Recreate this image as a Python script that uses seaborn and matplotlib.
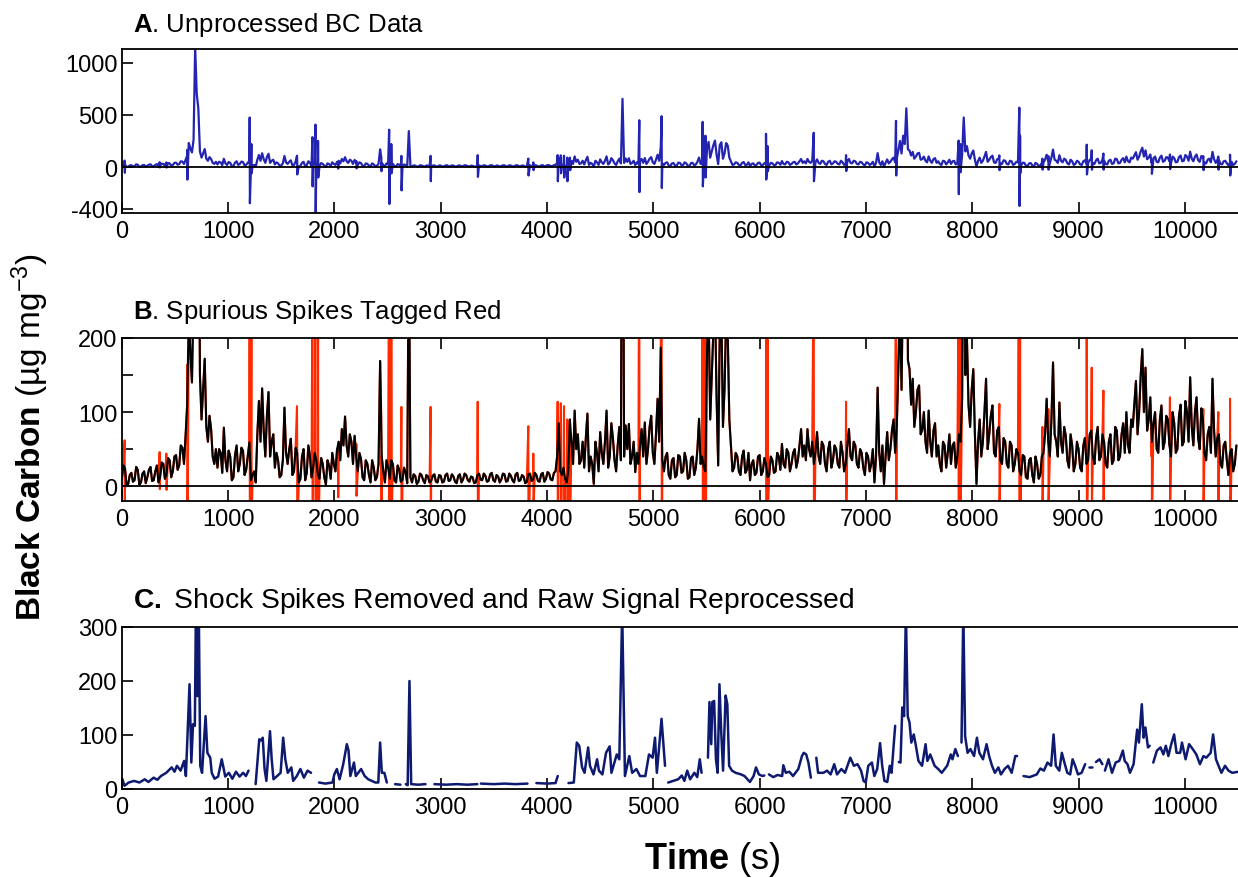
import numpy as np
import pandas as pd
import matplotlib
matplotlib.use("Agg")
import matplotlib.pyplot as plt
from matplotlib.ticker import MultipleLocator
import seaborn as sns

# ---- background BC signal (black trace in B), readings on the 30 s marks ----
STEP = 30
bc_base = [
    10, 24, 3, 18, 8, 22, 5, 20, 12, 26,            # 0 - 270
    8, 28, 12, 30, 15, 35, 20, 42, 28, 52,          # 300 - 570
    68, 230, 140, 1150, 560, 90, 172, 60, 77, 30,   # 600 - 870
    25, 45, 79, 20, 40, 12, 55, 30, 48, 22,         # 900 - 1170
    59, 15, 5, 115, 132, 40, 127, 60, 25, 35,       # 1200 - 1470
    15, 106, 30, 64, 20, 45, 10, 50, 18, 40,        # 1500 - 1770
    25, 35, 10, 30, 2, 28, 45, 20, 60, 77,          # 1800 - 2070
    94, 40, 60, 68, 20, 37, 8, 30, 5, 25,           # 2100 - 2370
    12, 169, 20, 35, 10, 30, 5, 22, 8, 18,          # 2400 - 2670
    344, 5, 14, 6, 15, 4, 13, 7, 16, 5,             # 2700 - 2970
    14, 6, 17, 8, 13, 4, 16, 9, 15, 6,              # 3000 - 3270
    12, 5, 17, 8, 14, 7, 18, 6, 13, 9,              # 3300 - 3570
    16, 7, 14, 5, 18, 8, 13, 6, 17, 9,              # 3600 - 3870
    15, 6, 18, 10, 17, 8, 20, 85, 15, 10,           # 3900 - 4170
    20, 60, 102, 70, 35, 25, 98, 40, 3, 45,         # 4200 - 4470
    73, 30, 102, 40, 65, 20, 80, 653, 82, 84,       # 4500 - 4770
    40, 19, 30, 77, 86, 50, 95, 30, 118, 187,       # 4800 - 5070
    20, 45, 10, 38, 15, 40, 20, 35, 12, 40,         # 5100 - 5370
    25, 91, 40, 20, 240, 150, 253, 28, 237, 131,    # 5400 - 5670
    205, 55, 25, 40, 15, 48, 22, 8, 35, 18,         # 5700 - 5970
    42, 20, 30, 15, 35, 20, 40, 57, 25, 45,         # 6000 - 6270
    30, 50, 35, 77, 55, 77, 40, 30, 73, 30,         # 6300 - 6570
    55, 20, 60, 35, 50, 25, 45, 30, 77, 35,         # 6600 - 6870
    55, 25, 45, 15, 40, 30, 5, 133, 20, 3,          # 6900 - 7170
    73, 50, 90, 80, 250, 300, 562, 158, 145, 100,   # 7200 - 7470
    136, 76, 60, 102, 40, 85, 55, 20, 55, 45,       # 7500 - 7770
    30, 59, 40, 60, 474, 200, 80, 158, 3, 90,       # 7800 - 8070
    60, 145, 70, 109, 40, 80, 30, 60, 25, 55,       # 8100 - 8370
    30, 45, 15, 40, 10, 38, 5, 30, 15, 45,          # 8400 - 8670
    118, 40, 167, 60, 113, 45, 68, 25, 55, 30,      # 8700 - 8970
    50, 20, 65, 35, 75, 30, 80, 40, 60, 25,         # 9000 - 9270
    70, 35, 75, 40, 85, 100, 45, 80, 142, 100,      # 9300 - 9570
    185, 160, 90, 60, 100, 45, 109, 60, 90, 40,     # 9600 - 9870
    85, 50, 110, 60, 100, 147, 55, 120, 50, 90,     # 9900 - 10170
    35, 80, 145, 40, 70, 25, 60, 15, 50, 30,        # 10200 - 10470
]
# readings half way between the 30 s marks (t + 15 s)
bc_mid = [
    28, 0, 15, 6, 26, 2, 17, 4, 22, 7,
    20, 5, 32, 10, 38, 12, 40, 22, 55, 30,
    110, 180, 260, 700, 150, 130, 80, 95, 40, 50,
    50, 18, 35, 48, 8, 42, 20, 52, 15, 40,
    8, 20, 70, 60, 75, 95, 40, 70, 45, 12,
    35, 45, 50, 15, 52, 5, 40, 8, 55, 12,
    45, 15, 38, 12, 35, 10, 30, 50, 35, 55,
    55, 70, 30, 40, 45, 12, 35, 15, 35, 8,
    30, 40, 5, 25, 35, 8, 28, 6, 25, 4,
    12, 16, 3, 17, 8, 15, 5, 14, 6, 15,
    5, 15, 7, 16, 6, 14, 5, 17, 8, 13,
    4, 15, 9, 17, 6, 16, 8, 15, 5, 17,
    6, 17, 8, 16, 7, 15, 4, 16, 7, 18,
    7, 16, 6, 19, 9, 18, 40, 20, 25, 5,
    90, 30, 50, 30, 60, 65, 20, 30, 60, 20,
    45, 60, 25, 85, 35, 55, 35, 40, 50, 30,
    60, 45, 55, 40, 30, 80, 45, 70, 60, 35,
    40, 15, 35, 12, 42, 18, 45, 10, 38, 15,
    50, 30, 25, 180, 90, 210, 120, 210, 80, 230,
    90, 20, 45, 20, 40, 18, 45, 30, 15, 40,
    15, 38, 12, 40, 18, 45, 22, 30, 50, 20,
    45, 25, 55, 40, 35, 50, 60, 45, 40, 60,
    30, 50, 25, 55, 30, 60, 20, 55, 40, 60,
    30, 50, 25, 45, 20, 50, 40, 45, 55, 40,
    35, 75, 45, 160, 130, 220, 170, 110, 80, 130,
    70, 100, 45, 60, 75, 40, 30, 60, 25, 70,
    55, 25, 70, 120, 150, 110, 130, 70, 60, 40,
    100, 50, 95, 45, 75, 35, 65, 30, 60, 20,
    50, 20, 42, 12, 35, 15, 40, 10, 40, 70,
    60, 90, 70, 40, 60, 80, 35, 70, 20, 60,
    25, 55, 30, 70, 40, 65, 35, 70, 30, 60,
    30, 80, 35, 70, 45, 55, 90, 110, 70, 150,
    100, 75, 120, 85, 50, 90, 50, 95, 55, 100,
    45, 95, 55, 115, 60, 80, 100, 65, 105, 45,
    70, 45, 75, 65, 30, 55, 35, 45, 20, 55,
]

# ---- shock spikes tagged as spurious (red in B): time, max, min ----
spike_t = [27, 356, 419, 615, 1203, 1219, 1648, 1793, 1822, 1846,
           2034, 2206, 2441, 2515, 2535, 2630, 2905, 3348, 3824, 3871,
           4100, 4130, 4160, 4190, 4216, 4868, 5078, 5464, 5490, 6060,
           6075, 6509, 6813, 7283, 7872, 7888, 8255, 8443, 8450, 8660,
           8716, 9077, 9124, 9234, 9688, 9860, 10174, 10315, 10425]
spike_hi = [62, 46, 44, 164, 474, 220, 108, 286, 406, 250,
            45, 57, 92, 357, 220, 107, 107, 114, 81, 44,
            114, 112, 108, 90, 60, 448, 487, 432, 300, 318,
            200, 328, 114, 442, 253, 220, 111, 568, 300, 80,
            104, 214, 160, 129, 40, 120, 104, 100, 118]
spike_lo = [-55, -4, -5, -120, -347, -60, -71, -185, -445, -100,
            -15, -13, -40, -354, -60, -224, -136, -94, -81, -30,
            -136, -60, -100, -136, -30, -240, -201, -185, -100, -120,
            -40, -136, -39, -81, -260, -50, -30, -373, -60, -25,
            -25, -71, -25, -25, -65, -20, -30, -25, -81]

# ---- reprocessed signal (C), None marks a gap ----
c_t = [4, 25, 65, 115, 166, 216, 250, 300, 334, 368, 418, 469, 496, 519, 553, 586, 603,
       637, 654, 670, 687, 697, 711, 724, 738, 755, 788, 805, 832, 846, 872, 906, 940,
       956, 973, 1007, 1040, 1074, 1108, 1141, 1168, 1192, None,
       1259, 1293, 1310, 1326, 1343, 1360, 1394, 1410, 1427, 1461, 1494, 1518, 1538,
       1561, 1595, 1612, 1646, 1680, 1713, 1747, 1780, None,
       1855, 1915, 1982, 1999, 2023, 2049, 2083, 2117, 2133, 2150, 2184, 2201, 2251,
       2285, 2318, 2352, 2386, 2413, 2430, 2446, 2470, 2493, None,
       2571, 2621, None,
       2672, 2689, 2706, 2722, 2789, 2857, None,
       2941, 3050, 3150, 3250, 3344, None,
       3378, 3500, 3600, 3700, 3816, None,
       3900, 4000, 4080, 4101, None,
       4202, 4252, 4280, 4303, 4330, 4353, 4387, 4404, 4437, 4471, 4488, 4521, 4555,
       4589, 4606, 4656, 4680, 4707, 4733, 4774, 4801, 4841, 4875, 4925, 4959, 4993,
       5016, 5033, 5050, 5077, 5110, None,
       5140, 5234, 5268, 5292, 5319, 5346, 5386, 5413, 5437, 5454, None,
       5514, 5528, 5545, 5555, 5572, 5589, 5605, 5622, 5639, 5656, 5680, 5696, 5713,
       5740, 5774, 5825, 5858, 5909, 5943, 5966, 5993, 6027, 6044, None,
       6088, 6128, 6169, 6212, 6223, 6246, 6280, 6314, 6364, 6398, 6415, 6438, 6459,
       6482, None,
       6533, 6550, 6600, 6634, 6668, 6702, 6728, 6769, 6803, 6853, 6887, 6921, 6954,
       6978, 6998, 7022, 7056, 7079, 7106, 7133, 7153, 7174, 7201, 7224, 7241, 7275, None,
       7309, 7325, 7342, 7359, 7376, 7393, 7410, 7427, 7450, 7470, 7494, 7528, 7561,
       7578, 7605, 7646, 7680, 7713, 7764, 7798, 7814, 7841, 7865, None,
       7899, 7916, 7933, 7956, 7983, 8017, 8044, 8067, 8101, 8135, 8159, 8186, 8213,
       8246, 8270, 8304, 8337, 8371, 8405, 8422, None,
       8482, 8540, 8607, 8641, 8674, 8708, 8742, 8765, 8786, 8819, 8843, 8867, 8894,
       8921, 8944, 8968, 8995, 9029, 9062, None,
       9096, 9130, None,
       9164, 9197, 9224, None,
       9248, 9282, 9315, 9349, 9383, 9417, 9434, 9460, 9484, 9518, 9551, 9568, 9595,
       9612, 9629, 9653, 9669, None,
       9703, 9737, 9771, 9798, 9821, 9845, 9872, 9899, 9922, 9956, 9973, 10007, 10040,
       10074, 10108, 10142, 10175, 10202, 10243, 10266, 10293, 10317, 10344, 10378,
       10411, 10445, 10506]
c_v = [19, 6, 12, 15, 12, 18, 13, 21, 17, 24, 30, 40, 32, 43, 34, 52, 24,
       194, 49, 120, 117, 330, 172, 340, 43, 30, 135, 67, 58, 30, 19, 23, 55,
       40, 23, 30, 19, 32, 23, 30, 24, 34, None,
       9, 92, 90, 95, 37, 15, 107, 55, 18, 24, 30, 95, 55,
       30, 40, 15, 24, 37, 21, 34, 30, None,
       12, 10, 12, 27, 37, 18, 46, 83, 71, 24, 49, 24, 37,
       24, 18, 15, 12, 12, 86, 30, 30, 12, None,
       9, 8, None,
       9, 7, 200, 9, 8, 9, None,
       9, 8, 9, 8, 9, None,
       10, 9, 10, 9, 10, None,
       11, 10, 11, 24, None,
       11, 12, 86, 80, 40, 30, 77, 43, 27, 55, 34, 27, 67,
       79, 30, 64, 55, 330, 24, 61, 30, 37, 24, 24, 64, 58,
       95, 30, 67, 130, 43, None,
       12, 18, 25, 15, 34, 18, 30, 22, 55, 30, None,
       58, 161, 83, 161, 163, 55, 30, 194, 104, 34, 173, 157, 43,
       34, 30, 27, 24, 13, 24, 40, 27, 24, 25, None,
       27, 22, 26, 24, 44, 30, 32, 24, 37, 61, 67, 64, 49,
       21, None,
       58, 30, 30, 34, 27, 46, 27, 37, 30, 58, 43, 46, 34,
       15, 12, 43, 49, 24, 37, 85, 43, 15, 13, 43, 30, 117, None,
       50, 49, 151, 135, 330, 135, 123, 86, 101, 80, 52, 43, 83,
       52, 64, 43, 37, 30, 43, 64, 55, 74, 61, None,
       86, 330, 98, 67, 74, 61, 95, 67, 55, 83, 61, 43, 30,
       40, 27, 37, 43, 30, 61, 61, None,
       24, 22, 27, 38, 34, 49, 43, 101, 43, 34, 67, 49, 30,
       27, 55, 43, 27, 30, 46, None,
       40, 40, None,
       50, 55, 46, None,
       34, 55, 30, 49, 52, 71, 52, 46, 30, 46, 110, 86, 157,
       95, 114, 77, 80, None,
       49, 71, 77, 64, 80, 61, 83, 101, 67, 67, 86, 55, 83,
       74, 64, 46, 61, 58, 67, 101, 55, 43, 30, 43,
       34, 30, 32]

x_ticks = list(range(0, 10001, 1000))
a_yticks = [-400, 0, 500, 1000]
b_yticks = [0, 100, 200]
c_yticks = [0, 100, 200, 300]

BLUE = "#2424b2"
RED = "#ff2a00"
NAVY = "#0d1a70"

sns.set_style("ticks")
plt.rcParams["font.family"] = ["Liberation Sans", "DejaVu Sans"]
plt.rcParams["mathtext.fontset"] = "custom"
plt.rcParams["mathtext.rm"] = "Liberation Sans"
plt.rcParams["mathtext.it"] = "Liberation Sans:italic"
plt.rcParams["mathtext.bf"] = "Liberation Sans:bold"
plt.rcParams["axes.unicode_minus"] = False
for key in ("text.color", "axes.labelcolor", "xtick.color", "ytick.color",
            "axes.edgecolor"):
    plt.rcParams[key] = "black"

# clean background record (30 s marks + half-way readings)
clean = pd.DataFrame({
    "t": np.concatenate([np.arange(len(bc_base)) * STEP,
                         np.arange(len(bc_mid)) * STEP + STEP // 2]),
    "bc": np.concatenate([bc_base, bc_mid]),
}).sort_values("t", kind="stable")

# raw record = background + tagged spikes
raw = pd.concat([
    clean,
    pd.DataFrame({"t": spike_t, "bc": spike_hi}),
    pd.DataFrame({"t": np.array(spike_t) + 2, "bc": spike_lo}),
]).sort_values("t", kind="stable")

reproc = pd.DataFrame({"t": c_t, "bc": c_v}, dtype=float)
reproc["seg"] = reproc["bc"].isna().cumsum()

W, H = 1238, 879
fig = plt.figure(figsize=(W / 100, H / 100), dpi=100)
left = 121.8 / W
ax_a = fig.add_axes([left, 1 - 214 / H, 1 - left, 164 / H])
ax_b = fig.add_axes([left, 1 - 502 / H, 1 - left, 163 / H])
ax_c = fig.add_axes([left, 1 - 790 / H, 1 - left, 162 / H])

# A: unprocessed
sns.lineplot(data=raw, x="t", y="bc", ax=ax_a, color=BLUE, lw=1.6,
             estimator=None, sort=False)
ax_a.axhline(0, color="black", lw=1.3, zorder=3)
ax_a.set_ylim(-440, 1130)
ax_a.set_yticks(a_yticks)

# B: spikes tagged red
sns.lineplot(data=raw, x="t", y="bc", ax=ax_b, color=RED, lw=1.5,
             estimator=None, sort=False)
sns.lineplot(data=clean, x="t", y="bc", ax=ax_b, color="black", lw=1.5,
             estimator=None, sort=False)
ax_b.axhline(0, color="black", lw=1.3, zorder=3)
ax_b.set_ylim(-20, 200)
ax_b.set_yticks(b_yticks)
ax_b.yaxis.set_minor_locator(MultipleLocator(50))

# C: reprocessed
sns.lineplot(data=reproc, x="t", y="bc", units="seg", ax=ax_c, color=NAVY,
             lw=1.8, estimator=None, sort=False, legend=False)
ax_c.set_ylim(0, 300)
ax_c.set_yticks(c_yticks)

for ax in (ax_a, ax_b, ax_c):
    ax.set_xlim(0, 10500)
    ax.set_xticks(x_ticks)
    ax.set_xlabel("")
    ax.set_ylabel("")
    ax.spines["right"].set_visible(False)
    for s in ("left", "top", "bottom"):
        ax.spines[s].set_linewidth(1.3)
    ax.tick_params(axis="both", which="major", direction="in", length=8,
                   width=1.2, labelsize=17, pad=3)
    ax.tick_params(axis="y", which="minor", direction="in", length=8, width=1.2)
    ax.tick_params(axis="x", pad=5)
ax_b.tick_params(axis="x", top=True)

fig.text(133 / W, 1 - 25 / H, r"$\mathbf{A}$. Unprocessed BC Data",
         fontsize=18.5, va="center")
fig.text(133 / W, 1 - 312 / H, r"$\mathbf{B}$. Spurious Spikes Tagged Red",
         fontsize=18.5, va="center")
fig.text(133 / W, 1 - 601 / H, r"$\mathbf{C.}$ Shock Spikes Removed and Raw Signal Reprocessed",
         fontsize=20.3, va="center")
fig.text(30 / W, 1 - 437 / H, r"$\mathbf{Black\ Carbon}$ (µg mg$^{-3}$)",
         fontsize=24, rotation=90, ha="center", va="center")
fig.text(712 / W, 1 - 860 / H, r"$\mathbf{Time}$ (s)",
         fontsize=26, ha="center", va="center")

fig.savefig("out.png", dpi=100)
